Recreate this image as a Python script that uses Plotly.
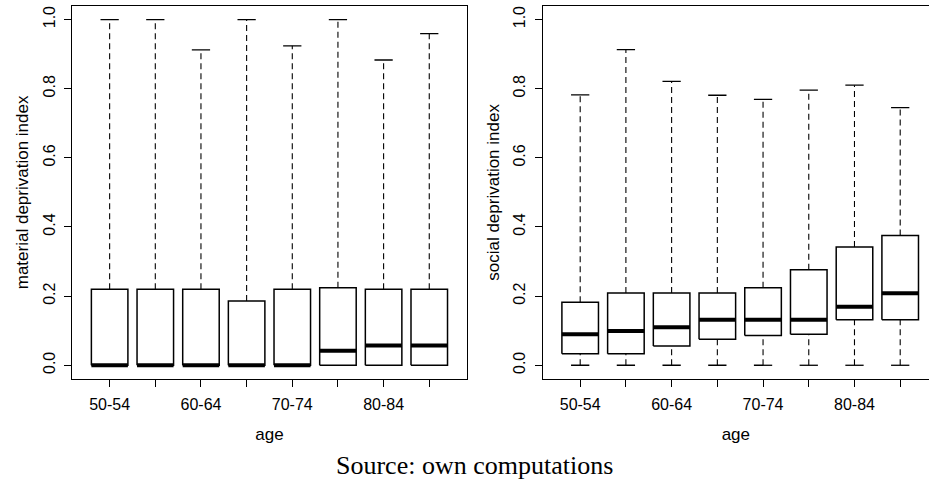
import plotly.graph_objects as go

# ---- data ----
age_groups = ["50-54", "55-59", "60-64", "65-69", "70-74", "75-79", "80-84", "85+"]
tick_labels = ["50-54", "", "60-64", "", "70-74", "", "80-84", ""]

mat_lower = [0, 0, 0, 0, 0, 0, 0, 0]
mat_q1 = [0, 0, 0, 0, 0, 0, 0, 0]
mat_median = [0, 0, 0, 0, 0, 0.042, 0.057, 0.057]
mat_q3 = [0.22, 0.22, 0.22, 0.186, 0.22, 0.224, 0.22, 0.22]
mat_upper = [1.0, 1.0, 0.912, 1.0, 0.924, 1.0, 0.883, 0.959]

soc_lower = [0, 0, 0, 0, 0, 0, 0, 0]
soc_q1 = [0.033, 0.033, 0.056, 0.075, 0.086, 0.090, 0.132, 0.132]
soc_median = [0.090, 0.099, 0.110, 0.132, 0.132, 0.132, 0.169, 0.208]
soc_q3 = [0.182, 0.209, 0.209, 0.209, 0.224, 0.276, 0.342, 0.375]
soc_upper = [0.782, 0.913, 0.821, 0.781, 0.769, 0.796, 0.810, 0.745]

y_ticks = [0, 0.2, 0.4, 0.6, 0.8, 1.0]

# ---- styles ----
HALF = 0.4      # half box width (R boxwex 0.8)
STAPLE = 0.2    # half staple width
FONT = "Liberation Sans, Arial, Helvetica, sans-serif"
LW = 1.3

fig = go.Figure()


def add_panel(xa, ya, lower, q1, med, q3, upper):
    pos = list(range(1, len(age_groups) + 1))
    wx, wy, sx, sy, bx, by, mx, my = [], [], [], [], [], [], [], []
    for p, lo, a, m, b, up in zip(pos, lower, q1, med, q3, upper):
        wx += [p, p, None, p, p, None]
        wy += [b, up, None, lo, a, None]
        sx += [p - STAPLE, p + STAPLE, None, p - STAPLE, p + STAPLE, None]
        sy += [up, up, None, lo, lo, None]
        bx += [p - HALF, p + HALF, p + HALF, p - HALF, p - HALF, None]
        by += [a, a, b, b, a, None]
        mx += [p - HALF, p + HALF, None]
        my += [m, m, None]
    common = dict(xaxis=xa, yaxis=ya, mode="lines", showlegend=False, hoverinfo="skip")
    fig.add_trace(go.Scatter(x=wx, y=wy, line=dict(color="black", width=1.1, dash="6px,4px"), **common))
    fig.add_trace(go.Scatter(x=sx, y=sy, line=dict(color="black", width=LW), **common))
    fig.add_trace(go.Scatter(x=bx, y=by, fill="toself", fillcolor="white",
                             line=dict(color="black", width=1.5), **common))
    fig.add_trace(go.Scatter(x=mx, y=my, line=dict(color="black", width=4), **common))


add_panel("x", "y", mat_lower, mat_q1, mat_median, mat_q3, mat_upper)
add_panel("x2", "y2", soc_lower, soc_q1, soc_median, soc_q3, soc_upper)

ydom = [1 - 379.1 / 484, 1 - 5.7 / 484]
tickfont = dict(family=FONT, size=16, color="black")
titlefont = dict(family=FONT, size=17, color="black")

xcommon = dict(
    tickmode="array", tickvals=list(range(1, len(age_groups) + 1)), ticktext=tick_labels,
    ticks="outside", ticklen=7, tickwidth=LW, tickcolor="black",
    showline=True, linecolor="black", linewidth=LW, showgrid=False, zeroline=False,
    tickfont=tickfont, ticklabelstandoff=4,
    title=dict(text="age", font=titlefont, standoff=15),
)
ycommon = dict(
    tickmode="array", tickvals=y_ticks, tickformat=".1f", tickangle=-90,
    ticks="outside", ticklen=7, tickwidth=LW, tickcolor="black",
    showline=True, linecolor="black", linewidth=LW, showgrid=False, zeroline=False,
    tickfont=tickfont, range=[-0.04, 1.04], domain=ydom, ticklabelstandoff=3,
)

fig.update_layout(
    width=929, height=484,
    margin=dict(l=0, r=0, t=0, b=0),
    paper_bgcolor="white", plot_bgcolor="white",
    xaxis=dict(domain=[72.2 / 929, 466.7 / 929], range=[0.18, 8.82], anchor="y", mirror=True, **xcommon),
    yaxis=dict(anchor="x", mirror=True,
               title=dict(text="material deprivation index", font=titlefont, standoff=7), **ycommon),
    xaxis2=dict(domain=[542.7 / 929, 1.0], range=[0.18, 8.63], anchor="y2", mirror=True, **xcommon),
    yaxis2=dict(anchor="x2", mirror=False,
                title=dict(text="social deprivation index", font=titlefont, standoff=7), **ycommon),
    annotations=[dict(
        text="Source: own computations", x=475 / 929, y=1 - 465 / 484,
        xref="paper", yref="paper", xanchor="center", yanchor="middle", showarrow=False,
        font=dict(family="Liberation Serif, DejaVu Serif, serif", size=26, color="black"),
    )],
)

fig.write_html("out.html")
